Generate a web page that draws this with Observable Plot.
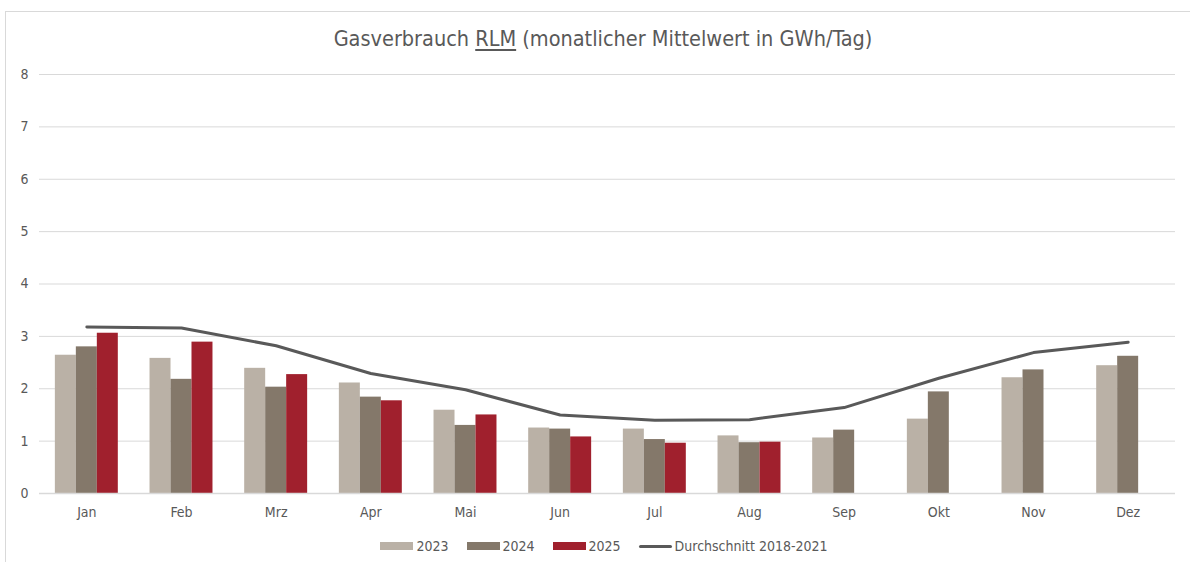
<!DOCTYPE html>
<html>
<head>
<meta charset="utf-8">
<script src="https://cdn.jsdelivr.net/npm/d3@7"></script>
<script src="https://cdn.jsdelivr.net/npm/@observablehq/plot@0.6"></script>
<style>
  html, body { margin: 0; padding: 0; background: #fff; }
  body { width: 1190px; height: 562px; position: relative; overflow: hidden;
         font-family: "Liberation Sans Narrow", "DejaVu Sans Condensed", "Liberation Sans", sans-serif; color: #595959; }
  #frame { position: absolute; left: 5px; top: 11px; width: 1200px; height: 600px; border: 1px solid #d9d9d9; box-sizing: border-box; }
  #title { position: absolute; left: 8px; width: 1190px; top: 26px; text-align: center; font-size: 21.5px; color: #595959; }
  #title u { text-decoration-thickness: 2px; text-underline-offset: 3px; }
  #chart { position: absolute; left: 0; top: 60px; }
  #legend { position: absolute; left: 9px; width: 1190px; top: 538px; display: flex; justify-content: center; font-size: 14px; color: #595959; }
  .item { display: flex; align-items: center; margin: 0 9px; }
  .sw { width: 33px; height: 8px; margin-right: 3px; }
  .ln { width: 33px; height: 3px; margin-right: 3px; border-radius: 2px; }
</style>
</head>
<body>
<div id="frame"></div>
<div id="title">Gasverbrauch <u>RLM</u> (monatlicher Mittelwert in GWh/Tag)</div>
<div id="chart"></div>
<div id="legend"></div>
<script>
const months = ["Jan","Feb","Mrz","Apr","Mai","Jun","Jul","Aug","Sep","Okt","Nov","Dez"];
const years = ["2023","2024","2025"];
const v2023 = [2.64, 2.58, 2.39, 2.11, 1.59, 1.25, 1.23, 1.10, 1.06, 1.42, 2.21, 2.44];
const v2024 = [2.80, 2.18, 2.03, 1.84, 1.30, 1.23, 1.03, 0.97, 1.21, 1.94, 2.36, 2.62];
const v2025 = [3.06, 2.89, 2.27, 1.77, 1.50, 1.08, 0.96, 0.98, null, null, null, null];
const avg2018_2021 = [3.18, 3.16, 2.82, 2.29, 1.98, 1.50, 1.40, 1.41, 1.64, 2.20, 2.69, 2.89];
const avgLabel = "Durchschnitt 2018-2021";
const yTicks = [0,1,2,3,4,5,6,7,8];

const colors = {"2023": "#bab1a6", "2024": "#84786a", "2025": "#a0202d"};
const lineColor = "#595959";

const W = 1190, H = 470, mL = 39, mR = 15, mT = 14, mB = 37;
const pad = 0.335;
const step = (W - mL - mR) / months.length;
const bw = step * (1 - pad);
const third = bw / 3;

const series = {"2023": v2023, "2024": v2024, "2025": v2025};
const barMarks = years.map((yr, i) => {
  const data = months.map((m, j) => ({month: m, value: series[yr][j]})).filter(d => d.value != null);
  return Plot.barY(data, {x: "month", y: "value", fill: colors[yr],
    insetLeft: i * third, insetRight: (2 - i) * third});
});
const lineData = months.map((m, j) => ({month: m, value: avg2018_2021[j]}));

const plot = Plot.plot({
  width: W, height: H,
  marginLeft: mL, marginRight: mR, marginTop: mT, marginBottom: mB,
  style: {fontFamily: '"Liberation Sans Narrow", "DejaVu Sans Condensed", sans-serif', fontSize: "14px", color: "#595959", background: "transparent"},
  x: {domain: months, paddingInner: pad, paddingOuter: pad / 2, round: false, label: null},
  y: {domain: [0, 8], ticks: yTicks, label: null},
  marks: [
    Plot.gridY(yTicks.filter(t => t > 0), {stroke: "#d9d9d9", strokeOpacity: 1, strokeWidth: 1}),
    Plot.axisY({ticks: yTicks, tickSize: 0, tickPadding: 14, label: null, textAnchor: "middle", dx: -1}),
    Plot.axisX({tickSize: 0, tickPadding: 14, label: null}),
    ...barMarks,
    Plot.ruleY([0], {stroke: "#d9d9d9", strokeWidth: 1.5}),
    Plot.line(lineData, {x: "month", y: "value", stroke: lineColor, strokeWidth: 3, strokeLinecap: "round", strokeLinejoin: "round"})
  ]
});
document.getElementById("chart").appendChild(plot);

const legend = document.getElementById("legend");
years.forEach(yr => {
  const it = document.createElement("div"); it.className = "item";
  it.innerHTML = `<span class="sw" style="background:${colors[yr]}"></span><span>${yr}</span>`;
  legend.appendChild(it);
});
const it = document.createElement("div"); it.className = "item";
it.innerHTML = `<span class="ln" style="background:${lineColor}"></span><span>${avgLabel}</span>`;
legend.appendChild(it);
</script>
</body>
</html>
